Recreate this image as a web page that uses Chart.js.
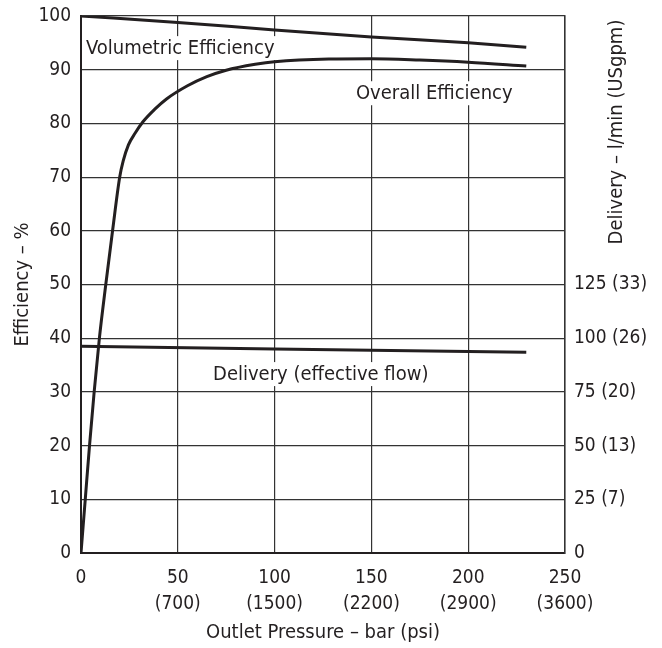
<!DOCTYPE html>
<html>
<head>
<meta charset="utf-8">
<script src="https://cdn.jsdelivr.net/npm/chart.js@4/dist/chart.umd.min.js"></script>
<style>
html,body{margin:0;padding:0;background:#fff;}
#wrap{width:662px;height:648px;}
</style>
</head>
<body>
<div id="wrap"><canvas id="c" width="662" height="648"></canvas></div>
<script>
// ---- data ----
const pressureTicks = [0, 50, 100, 150, 200, 250];            // bar
const psiLabels = ['', '(700)', '(1500)', '(2200)', '(2900)', '(3600)'];
const deliveryTickLabels = ['0', '25 (7)', '50 (13)', '75 (20)', '100 (26)', '125 (33)'];

const volPressure = [0, 50, 100, 150, 200, 230];
const volEfficiency = [100, 98.8, 97.4, 96.1, 95.0, 94.2];

const overallPressure = [0, 2.2, 4.4, 6.8, 9.5, 12.8, 16.3, 20, 21.8, 24.5, 28, 32, 38, 44, 55, 65, 75, 90, 100, 128, 150, 175, 200, 230];
const overallEfficiency = [0, 10, 20, 30, 40, 50, 60, 70, 73, 76, 78.2, 80.3, 82.6, 84.5, 87.0, 88.7, 89.9, 91.0, 91.5, 92.0, 92.05, 91.8, 91.4, 90.7];

const deliveryPressure = [0, 100, 230];
const deliveryFlow = [38.5, 38.0, 37.4];   // plotted on the efficiency scale

const curveLabels = [
  {text: 'Volumetric Efficiency', x: 2.6, y: 92.9},
  {text: 'Overall Efficiency', x: 142, y: 84.5},
  {text: 'Delivery (effective flow)', x: 68.2, y: 32.2}
];

const FONT = "'DejaVu Sans Condensed', 'Liberation Sans Narrow', sans-serif";
const INK = '#231f20';
const GRID = '#333333';

function pts(xs, ys){ return xs.map((x,i)=>({x:x, y:ys[i]})); }

const labelPlugin = {
  id: 'curveLabels',
  beforeDatasetsDraw(chart){
    const ctx = chart.ctx, xs = chart.scales.x, ys = chart.scales.y;
    ctx.save();
    const size = 20;
    ctx.font = size + 'px ' + FONT;
    ctx.textBaseline = 'alphabetic';
    ctx.textAlign = 'left';
    curveLabels.forEach(l=>{
      const px = xs.getPixelForValue(l.x), py = ys.getPixelForValue(l.y);
      const w = ctx.measureText(l.text).width;
      ctx.fillStyle = '#fff';
      ctx.fillRect(px - 2, py - size*0.9, w + 4, size*1.2);
      ctx.fillStyle = INK;
      ctx.fillText(l.text, px, py);
    });
    ctx.restore();
  },
  afterDraw(chart){
    const ctx = chart.ctx, a = chart.chartArea;
    ctx.save();
    ctx.font = '20px ' + FONT;
    ctx.fillStyle = INK;
    ctx.translate(a.right + 52, a.top + 116);
    ctx.rotate(-Math.PI/2);
    ctx.textAlign = 'center';
    ctx.textBaseline = 'middle';
    ctx.fillText('Delivery – l/min (USgpm)', 0, 0);
    ctx.restore();
  }
};

const lineStyle = {borderColor: INK, borderWidth: 3, pointRadius: 0, fill: false, showLine: true};

function fixVertical(width){
  return function(s){ s.width = width; s.paddingTop = 0; s.paddingBottom = 0; };
}

new Chart(document.getElementById('c'), {
  type: 'scatter',
  data: {
    datasets: [
      Object.assign({label: 'Volumetric Efficiency', data: pts(volPressure, volEfficiency), cubicInterpolationMode: 'monotone'}, lineStyle),
      Object.assign({label: 'Overall Efficiency', data: pts(overallPressure, overallEfficiency), cubicInterpolationMode: 'monotone'}, lineStyle),
      Object.assign({label: 'Delivery (effective flow)', data: pts(deliveryPressure, deliveryFlow), tension: 0}, lineStyle)
    ]
  },
  options: {
    responsive: false,
    animation: false,
    devicePixelRatio: 1,
    layout: {padding: {top: 16, left: 0, right: 0, bottom: 0}},
    plugins: {legend: {display: false}, tooltip: {enabled: false}},
    scales: {
      x: {
        type: 'linear', min: 0, max: 250,
        afterBuildTicks(s){ s.ticks = pressureTicks.map(v=>({value: v})); },
        afterFit(s){ s.height = 95; },
        ticks: {
          color: INK, font: {family: FONT, size: 19, lineHeight: 1.32}, padding: 13, maxRotation: 0,
          callback(v){ const i = pressureTicks.indexOf(v); return psiLabels[i] ? [String(v), psiLabels[i]] : String(v); }
        },
        grid: {color: GRID, lineWidth: 1.2, drawTicks: false},
        border: {color: INK, width: 2},
        title: {display: true, text: 'Outlet Pressure – bar (psi)', color: INK, font: {family: FONT, size: 20, lineHeight: 1.2}, padding: {top: 0, bottom: 3}}
      },
      y: {
        type: 'linear', position: 'left', min: 0, max: 100,
        ticks: {stepSize: 10, color: INK, font: {family: FONT, size: 19}, padding: 10},
        afterFit: fixVertical(81),
        grid: {color: GRID, lineWidth: 1.2, drawTicks: false},
        border: {color: INK, width: 2},
        title: {display: true, text: 'Efficiency – %', color: INK, font: {family: FONT, size: 20, lineHeight: 1.2}, padding: {top: 11, bottom: 0}}
      },
      y2: {
        type: 'linear', position: 'right', min: 0, max: 100,
        ticks: {stepSize: 10, color: INK, font: {family: FONT, size: 19}, padding: 9,
          callback(v){ const i = Math.round(v/10); return deliveryTickLabels[i] !== undefined ? deliveryTickLabels[i] : ''; }
        },
        afterFit: fixVertical(97),
        grid: {display: false, drawTicks: false},
        border: {color: GRID, width: 1.5}
      }
    }
  },
  plugins: [labelPlugin]
});
</script>
</body>
</html>
